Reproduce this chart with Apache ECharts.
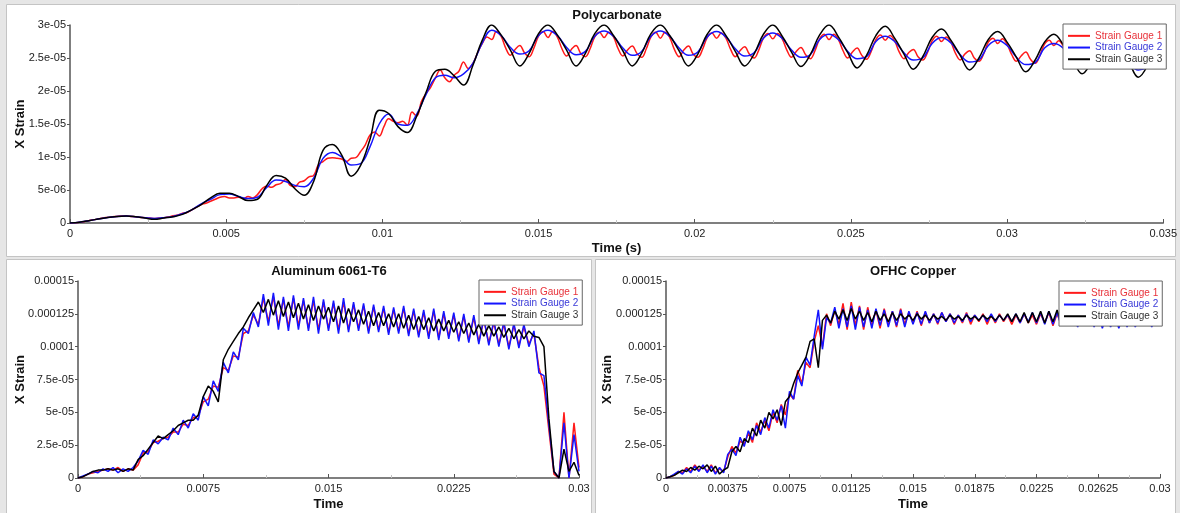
<!DOCTYPE html>
<html><head><meta charset="utf-8">
<script src="https://cdn.jsdelivr.net/npm/echarts@6/dist/echarts.min.js"></script>
<style>html,body{margin:0;padding:0;background:#fff}#c{width:1180px;height:513px}</style>
</head><body><div id="c"></div>
<script>
// ---------- sample spacing (s) ----------
const POLY_DT_FINE = 0.00015;   // Strain Gauge 1, Polycarbonate
const POLY_DT = 0.0003;         // Strain Gauges 2 & 3, Polycarbonate
const AL_DT = 0.0003;
const CU_DT = 0.00025;

// ---------- Polycarbonate (micro-strain) ----------
const polyG1 = [
0,0.02,0.1,0.2,0.35,0.5,0.6,0.75,0.85,0.95,
1.0,1.05,1.05,1.0,0.95,0.85,0.8,0.75,0.7,0.75,
0.8,0.9,1.1,1.2,1.5,1.6,2.0,2.4,2.8,3.0,
3.3,3.6,3.9,4.0,3.8,3.8,3.9,3.7,4.0,3.8,
4.3,5.2,5.6,5.4,5.8,6.0,6.6,5.7,5.5,6.2,
6.4,7.0,7.2,8.8,9.3,9.8,9.9,9.8,9.7,9.3,
9.8,9.9,10.8,11.8,13.3,13.8,13.2,14.6,15.8,15.4,
15.2,15.4,14.8,16.8,16.2,18.4,19.6,20.6,22.0,23.2,
22.0,21.4,22.4,23.0,24.4,23.4,24.2,25.8,27.2,28.2,
27.8,29.0,28.3,26.5,25.4,26.3,26.9,25.8,25.2,26.5,28.3,29.0,
28.1,29.0,28.2,26.4,25.3,26.3,26.9,25.7,25.2,26.4,28.2,28.9,
28.1,28.9,28.2,26.4,25.3,26.2,26.8,25.7,25.1,26.4,28.2,28.9,
28.0,28.9,28.1,26.3,25.2,26.2,26.8,25.6,25.1,26.3,28.1,28.8,
28.0,28.8,28.0,26.3,25.2,26.1,26.7,25.6,25.0,26.2,28.0,28.7,
27.9,28.7,27.9,26.2,25.1,26.0,26.6,25.5,24.9,26.1,27.9,28.6,
27.8,28.6,27.8,26.1,25.0,25.9,26.5,25.4,24.8,26.0,27.8,28.5,
27.7,28.4,27.6,25.9,24.9,25.8,26.3,25.2,24.7,25.8,27.6,28.3,
27.5,28.2,27.4,25.7,24.7,25.6,26.1,25.0,24.5,25.6,27.4,28.0,
27.2,27.9,27.1,25.5,24.5,25.3,25.9,24.8,24.2,25.4,27.1,27.7,
26.9,27.6,26.8,25.2,24.2,25.0,25.6,24.5,23.9,25.1,26.8,27.4,
26.6,27.3,26.5,24.9,23.9,24.7,25.3,24.2,23.6
];
const polyG2 = [
0,0.1,0.35,0.6,0.85,1.0,1.05,0.95,0.8,0.7,
0.8,1.0,1.4,2.0,2.9,3.6,4.3,4.4,4.0,3.7,
3.9,5.4,6.5,6.3,5.7,5.5,6.8,9.8,10.7,10.0,
8.8,9.0,11.5,15.0,16.5,15.0,14.8,16.5,19.5,22.0,
22.4,22.0,22.6,24.2,27.3,
29.2,28.4,26.6,25.6,26.1,28.4,
29.2,28.4,26.6,25.5,26.0,28.3,
29.1,28.3,26.5,25.4,26.0,28.3,
29.1,28.3,26.5,25.4,25.9,28.2,
29.0,28.2,26.4,25.3,25.8,28.0,
28.8,28.0,26.2,25.1,25.5,27.8,
28.6,27.8,26.0,24.9,25.2,27.5,
28.3,27.5,25.8,24.7,25.0,27.2,
28.1,27.3,25.5,24.4,24.7,26.9,
27.7,26.9,25.1,24.0,24.3,26.5,
27.2,26.5,24.7,23.6,23.9,26.1,
26.8,26.1,24.3,23.2,23.5
];
const polyG3 = [
0,0.1,0.35,0.6,0.85,1.0,1.05,0.95,0.75,0.55,
0.75,0.95,1.3,2.0,2.8,3.8,4.5,4.5,4.0,3.4,
3.6,5.7,7.2,6.8,5.2,4.2,6.3,11.0,11.9,10.3,
7.1,8.7,12.6,17.1,16.6,14.6,13.7,16.2,19.8,23.0,
23.3,22.3,20.9,23.9,27.7,
30.0,28.5,26.2,23.8,25.7,28.7,
30.0,28.5,26.2,23.8,25.7,28.7,
30.0,28.4,26.1,23.8,25.7,28.7,
30.0,28.4,26.1,23.8,25.6,28.6,
30.0,28.4,26.0,23.8,25.6,28.6,
30.0,28.3,25.9,23.7,25.5,28.5,
30.0,28.2,25.8,23.5,25.4,28.4,
29.8,28.0,25.6,23.3,25.2,28.1,
29.4,27.7,25.4,23.2,25.0,27.8,
29.0,27.4,25.1,22.9,24.7,27.4,
28.6,27.0,24.8,22.6,24.4,27.0,
28.2,26.6,24.4,22.1,23.9
];

// ---------- Aluminum 6061-T6 (micro-strain) ----------
const alG1 = [
0,1,3,4,5,6,7,6,8,5,7,6,10,19,20,27,28,30,31,35,
35,41,40,46,47,58,60,70,69,84,82,93,92,110,112,124,117,137,119,138,
116,136,115,137,116,135,114,135,113,134,114,133,113,134,113,132,114,131,112,130,
113,129,111,128,112,129,110,127,109,126,108,127,107,125,108,124,106,123,105,122,
104,120,103,118,102,117,100,116,101,115,102,110,84,70,36,3,0,50,0,42,
8
];
const alG2 = [
0,1.5,3,5,4,7,5,8,4,7,5,8,13,21,18,29,26,31,29,38,
33,44,38,49,44,62,55,74,66,88,80,96,90,114,110,126,115,140,116,141,
113,138,112,139,113,137,112,138,110,136,112,135,110,137,111,134,112,133,110,132,
111,131,109,130,110,131,108,129,107,128,106,129,105,127,106,126,104,125,103,124,
102,122,101,120,100,119,98,118,99,117,100,112,80,78,40,5,0,42,0,33,
5
];
const alG3 = [
0,1,3,5,6,6,7,6,7,5,7,6,14,17,22,27,32,30,33,36,
40,42,44,44,48,62,70,66,58,90,98,104,110,115,122,128,134,126,136,124,
135,123,134,122,133,121,132,120,131,121,130,119,131,118,129,119,128,117,127,116,
126,116,125,115,125,114,124,113,123,113,122,112,121,112,120,111,119,110,118,109,
117,108,116,108,115,107,114,106,113,106,112,108,107,100,45,5,0,22,5,12,
2
];

// ---------- OFHC Copper (micro-strain) ----------
const cuG1 = [
0,1,2,5,4,8,5,10,6,9,5,10,4,7,5,16,24,19,28,26,
34,27,42,35,44,36,50,42,56,48,64,60,82,72,88,84,104,116,100,125,
116,128,117,133,113,134,116,131,113,130,116,128,114,129,117,127,115,129,117,126,
118,127,116,126,118,125,117,126,119,125,117,124,118,126,117,124,119,125,117,124,
118,125,119,124,117,124,118,125,118,124,117,125,118,126,116,125,117,124,118,124,
117,124,118,123,117,124,118,123,117,124,118,123,117,124,118,123,117,124,118,123,
118
];
const cuG2 = [
0,1,3,5,3,7,4,9,5,10,4,9,3,8,4,18,22,17,31,24,
36,29,40,33,46,38,52,44,55,38,66,60,78,70,92,86,108,128,98,122,
118,130,114,129,115,131,113,130,115,128,114,129,116,128,115,127,116,128,115,127,
117,126,117,127,118,125,118,126,119,125,118,124,119,125,119,124,120,124,119,125,
119,124,120,124,119,125,118,125,119,126,118,126,117,127,117,126,116,126,116,125,
115,125,116,124,115,125,114,124,115,124,114,124,115,123,115,124,116,123,115,123,
116
];
const cuG3 = [
0,1,2,4,6,5,8,6,9,7,10,5,9,3,6,8,20,24,20,30,
27,38,32,44,38,50,45,52,40,58,62,72,80,86,92,104,106,84,120,124,
118,127,121,128,120,129,121,127,120,126,119,127,120,125,119,126,120,125,121,124,
120,125,121,124,120,124,121,123,120,124,121,123,120,124,121,123,120,124,121,123,
120,124,120,125,119,125,119,126,118,126,119,127,118,127,119,128,118,127,119,126,
119,125,120,125,119,125,120,124,120,124,120,124,120,123,121,123,120,124,120,123,
121
];

// ---------- names, colours, tick labels ----------
const seriesNames = ['Strain Gauge 1', 'Strain Gauge 2', 'Strain Gauge 3'];
const seriesColors = ['#ff1a1a', '#1414ff', '#000000'];
const legendTextColors = ['#e8323a', '#3a3ad8', '#333333'];
const panelTitles = ['Polycarbonate', 'Aluminum 6061-T6', 'OFHC Copper'];
const polyXLabels = ['0', '0.005', '0.01', '0.015', '0.02', '0.025', '0.03', '0.035'];
const polyYLabels = ['0', '5e-06', '1e-05', '1.5e-05', '2e-05', '2.5e-05', '3e-05'];
const alXLabels = ['0', '0.0075', '0.015', '0.0225', '0.03'];
const cuXLabels = ['0', '0.00375', '0.0075', '0.01125', '0.015', '0.01875', '0.0225', '0.02625', '0.03'];
const botYLabels = ['0', '2.5e-05', '5e-05', '7.5e-05', '0.0001', '0.000125', '0.00015'];

// ---------- build ----------
const FONT = '"Liberation Sans", Arial, sans-serif';
function pairs(vals, dt) { return vals.map((v, i) => [+(i * dt).toFixed(6), v]); }

function xAxis(gi, max, interval, labels, name, gap) {
  return {
    type: 'value', gridIndex: gi, min: 0, max: max, interval: interval,
    name: name, nameLocation: 'middle', nameGap: gap, nameMoveOverlap: false,
    nameTextStyle: { fontFamily: FONT, fontWeight: 'bold', fontSize: 13, color: '#111' },
    axisLine: { onZero: false, lineStyle: { color: '#555', width: 1.5 } },
    axisTick: { show: true, inside: true, length: 4, lineStyle: { color: '#555' } },
    minorTick: { show: true, splitNumber: 2, length: 3, lineStyle: { color: '#c4c4c4' } },
    splitLine: { show: false },
    axisLabel: { fontFamily: FONT, fontSize: 11, color: '#222', margin: 5,
      formatter: v => labels[Math.round(v / interval)] }
  };
}
function yAxis(gi, max, interval, labels, gap) {
  return {
    type: 'value', gridIndex: gi, min: 0, max: max, interval: interval,
    name: 'X Strain', nameLocation: 'middle', nameGap: gap, nameMoveOverlap: false,
    nameTextStyle: { fontFamily: FONT, fontWeight: 'bold', fontSize: 13, color: '#111' },
    axisLine: { show: true, onZero: false, lineStyle: { color: '#555', width: 1.5 } },
    axisTick: { show: true, length: 3, lineStyle: { color: '#555' } },
    splitLine: { show: false },
    axisLabel: { fontFamily: FONT, fontSize: 11, color: '#222', margin: 4,
      formatter: v => labels[Math.round(v / interval)] }
  };
}
function legend(left, top) {
  return {
    orient: 'vertical', left: left, top: top, z: 20,
    backgroundColor: '#fff', borderColor: '#666', borderWidth: 1,
    padding: [6, 4, 4, 5], itemGap: 0, itemWidth: 22, itemHeight: 2, icon: 'rect',
    textStyle: { fontFamily: FONT, fontSize: 10, lineHeight: 11.7 },
    data: seriesNames.map((n, i) => ({ name: n, textStyle: { color: legendTextColors[i] } }))
  };
}
function line(name, ci, gi, data, smooth, width) {
  return {
    type: 'line', name: name, xAxisIndex: gi, yAxisIndex: gi, data: data,
    showSymbol: false, symbol: 'none', smooth: smooth, animation: false,
    lineStyle: { color: seriesColors[ci], width: width }, itemStyle: { color: seriesColors[ci] }
  };
}

const polyData = [pairs(polyG1, POLY_DT_FINE), pairs(polyG2, POLY_DT), pairs(polyG3, POLY_DT)];
const alData = [pairs(alG1, AL_DT), pairs(alG2, AL_DT), pairs(alG3, AL_DT)];
const cuData = [pairs(cuG1, CU_DT), pairs(cuG2, CU_DT), pairs(cuG3, CU_DT)];

const series = [];
polyData.forEach((d, i) => series.push(line(seriesNames[i], i, 0, d, 0.4, 1.5)));
alData.forEach((d, i) => series.push(line(seriesNames[i], i, 1, d, false, 1.5)));
cuData.forEach((d, i) => series.push(line(seriesNames[i], i, 2, d, false, 1.5)));

const titleStyle = { fontFamily: FONT, fontWeight: 'bold', fontSize: 13, color: '#111' };
const option = {
  backgroundColor: '#e6e6e6',
  animation: false,
  graphic: [
    { type: 'rect', z: -10, shape: { x: 6.5, y: 4.5, width: 1169, height: 252 },
      style: { fill: '#fff', stroke: '#c4c4c4', lineWidth: 1 } },
    { type: 'rect', z: -10, shape: { x: 6.5, y: 259.5, width: 585, height: 260 },
      style: { fill: '#fff', stroke: '#c4c4c4', lineWidth: 1 } },
    { type: 'rect', z: -10, shape: { x: 595.5, y: 259.5, width: 580, height: 260 },
      style: { fill: '#fff', stroke: '#c4c4c4', lineWidth: 1 } }
  ],
  title: [
    { text: panelTitles[0], left: 617, top: 9, textAlign: 'center', padding: 0, textStyle: titleStyle },
    { text: panelTitles[1], left: 329, top: 265, textAlign: 'center', padding: 0, textStyle: titleStyle },
    { text: panelTitles[2], left: 913, top: 265, textAlign: 'center', padding: 0, textStyle: titleStyle }
  ],
  legend: [legend(1063, 24), legend(479, 280), legend(1059, 281)],
  grid: [
    { left: 70, top: 25, width: 1094, height: 198 },
    { left: 78, top: 281, width: 501, height: 197 },
    { left: 666, top: 281, width: 494, height: 197 }
  ],
  xAxis: [
    xAxis(0, 0.035, 0.005, polyXLabels, 'Time (s)', 19),
    xAxis(1, 0.03, 0.0075, alXLabels, 'Time', 20),
    xAxis(2, 0.03, 0.00375, cuXLabels, 'Time', 20)
  ],
  yAxis: [
    yAxis(0, 30, 5, polyYLabels, 43),
    yAxis(1, 150, 25, botYLabels, 51),
    yAxis(2, 150, 25, botYLabels, 52)
  ],
  series: series
};
const chart = echarts.init(document.getElementById('c'), null, { renderer: 'canvas' });
chart.setOption(option);
</script>
</body></html>
